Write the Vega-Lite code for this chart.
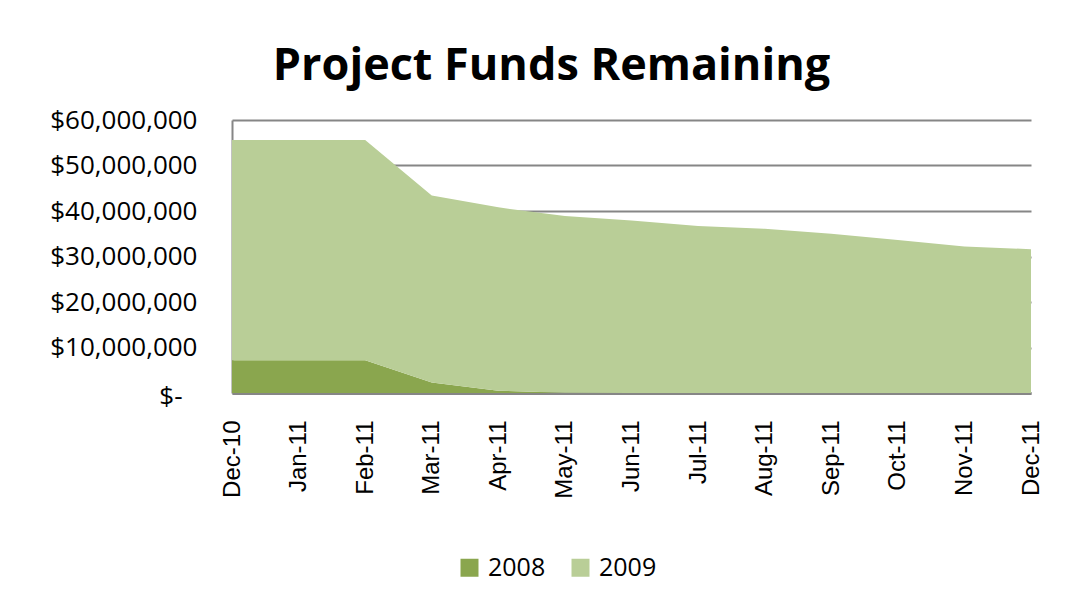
{
  "$schema": "https://vega.github.io/schema/vega-lite/v6.json",
  "autosize": {"type": "none"},
  "padding": {"left": 232, "top": 120, "right": 47, "bottom": 210},
  "width": 799,
  "height": 273,
  "background": "white",
  "title": {
    "text": "Project Funds Remaining",
    "font": "Open Sans",
    "fontSize": 45,
    "fontWeight": "bold",
    "color": "#000000",
    "anchor": "middle",
    "dx": -80,
    "offset": 18
  },
  "data": {
    "values": [
      {"month": "Dec-10", "year": "2008", "ord": 1, "amount": 7200000},
      {"month": "Jan-11", "year": "2008", "ord": 1, "amount": 7200000},
      {"month": "Feb-11", "year": "2008", "ord": 1, "amount": 7200000},
      {"month": "Mar-11", "year": "2008", "ord": 1, "amount": 2300000},
      {"month": "Apr-11", "year": "2008", "ord": 1, "amount": 500000},
      {"month": "May-11", "year": "2008", "ord": 1, "amount": 80000},
      {"month": "Jun-11", "year": "2008", "ord": 1, "amount": 0},
      {"month": "Jul-11", "year": "2008", "ord": 1, "amount": 0},
      {"month": "Aug-11", "year": "2008", "ord": 1, "amount": 0},
      {"month": "Sep-11", "year": "2008", "ord": 1, "amount": 0},
      {"month": "Oct-11", "year": "2008", "ord": 1, "amount": 0},
      {"month": "Nov-11", "year": "2008", "ord": 1, "amount": 0},
      {"month": "Dec-11", "year": "2008", "ord": 1, "amount": 0},
      {"month": "Dec-10", "year": "2009", "ord": 2, "amount": 48400000},
      {"month": "Jan-11", "year": "2009", "ord": 2, "amount": 48400000},
      {"month": "Feb-11", "year": "2009", "ord": 2, "amount": 48400000},
      {"month": "Mar-11", "year": "2009", "ord": 2, "amount": 41100000},
      {"month": "Apr-11", "year": "2009", "ord": 2, "amount": 40300000},
      {"month": "May-11", "year": "2009", "ord": 2, "amount": 38800000},
      {"month": "Jun-11", "year": "2009", "ord": 2, "amount": 37900000},
      {"month": "Jul-11", "year": "2009", "ord": 2, "amount": 36700000},
      {"month": "Aug-11", "year": "2009", "ord": 2, "amount": 36100000},
      {"month": "Sep-11", "year": "2009", "ord": 2, "amount": 35000000},
      {"month": "Oct-11", "year": "2009", "ord": 2, "amount": 33600000},
      {"month": "Nov-11", "year": "2009", "ord": 2, "amount": 32200000},
      {"month": "Dec-11", "year": "2009", "ord": 2, "amount": 31600000}
    ]
  },
  "mark": {"type": "area", "opacity": 1},
  "encoding": {
    "x": {
      "field": "month",
      "type": "ordinal",
      "sort": null,
      "scale": {"type": "point", "padding": 0},
      "axis": {
        "title": null,
        "labelAngle": -90,
        "labelFont": "Liberation Sans",
        "labelFontSize": 24,
        "labelColor": "#000000",
        "labelPadding": 27,
        "ticks": false,
        "domainColor": "#868686",
        "domainWidth": 3,
        "grid": false
      }
    },
    "y": {
      "field": "amount",
      "type": "quantitative",
      "stack": "zero",
      "scale": {"domain": [0, 60000000], "nice": false},
      "axis": {
        "title": null,
        "values": [0, 10000000, 20000000, 30000000, 40000000, 50000000, 60000000],
        "labelExpr": "datum.value === 0 ? '$-' : format(datum.value, '$,.0f')",
        "labelFont": "Open Sans",
        "labelFontSize": 26,
        "labelColor": "#000000",
        "labelPadding": {"condition": {"test": "datum.value === 0", "value": 50}, "value": 35},
        "labelOffset": {"condition": {"test": "datum.value === 0", "value": 3}, "value": 0},
        "ticks": false,
        "domainColor": "#868686",
        "domainWidth": 2,
        "grid": true,
        "gridColor": "#868686",
        "gridWidth": 2
      }
    },
    "color": {
      "field": "year",
      "type": "nominal",
      "scale": {"domain": ["2008", "2009"], "range": ["#8AA64E", "#B9CE97"]},
      "legend": {
        "title": null,
        "orient": "none",
        "direction": "horizontal",
        "legendX": 225,
        "legendY": 435,
        "padding": 0,
        "symbolType": "square",
        "symbolSize": 324,
        "symbolStrokeWidth": 0,
        "symbolOpacity": 1,
        "labelFont": "Open Sans",
        "labelFontSize": 25,
        "labelColor": "#000000",
        "labelOffset": 6,
        "columnPadding": 22
      }
    },
    "order": {"field": "ord", "type": "quantitative"}
  },
  "config": {
    "view": {"stroke": null}
  }
}
